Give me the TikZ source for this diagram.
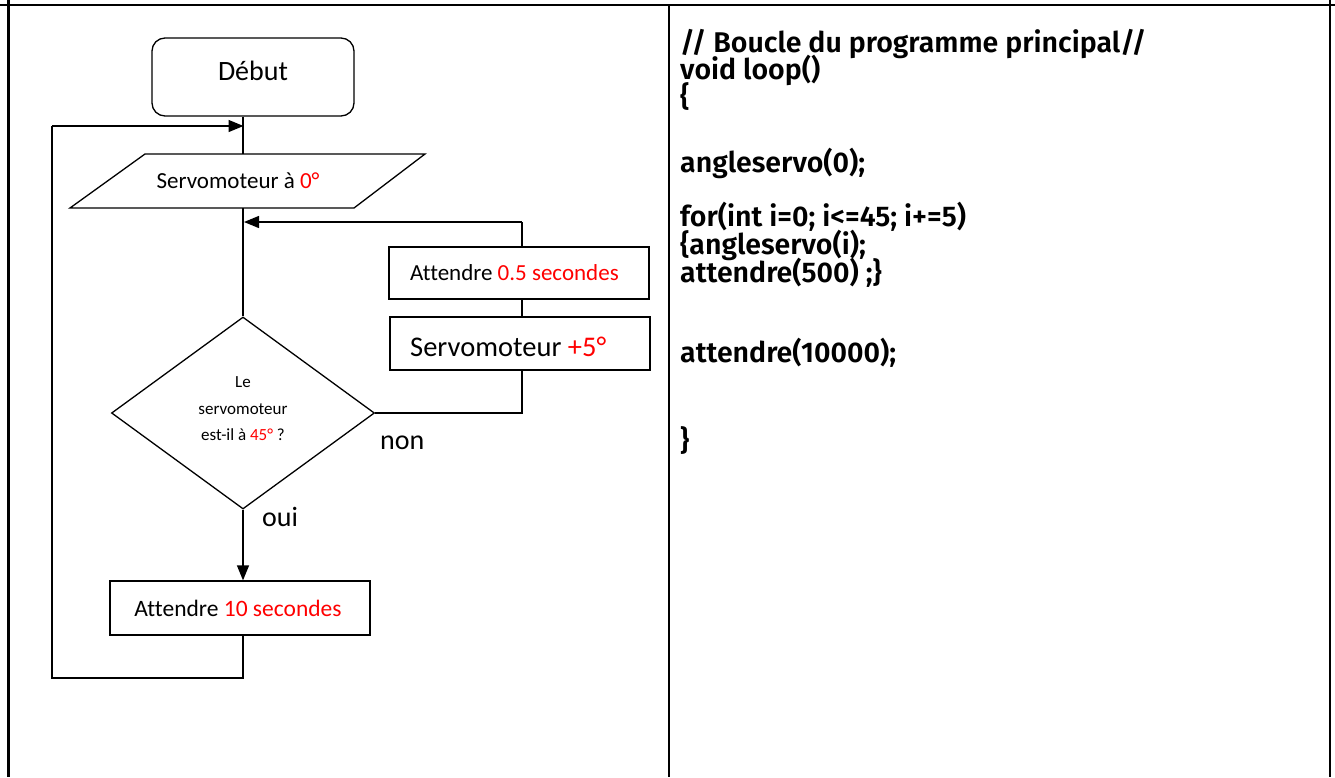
\documentclass[tikz,border=0pt]{standalone}
\usepackage{fontspec}
\usetikzlibrary{arrows.meta,shapes.geometric}
\setmainfont{Carlito}[Ligatures=NoCommon]
\IfFontExistsTF{Fira Sans SemiBold}
  {\newfontfamily\codefont{Fira Sans SemiBold}}
  {\newfontfamily\codefont{Fira Sans}[UprightFont=*,UprightFeatures={FakeBold=1.5}]}
\definecolor{valred}{HTML}{FF0000}
\newcommand{\val}[1]{\textcolor{valred}{#1}}

\tikzset{
  frame/.style={line width=2.6pt},
  flow/.style={line width=1.3pt},
  arr/.style={flow,-{Triangle[length=15pt,width=12pt]}},
  procbox/.style={draw,flow,rectangle,inner sep=0pt},
  codeline/.style={anchor=base west,inner sep=0pt,font=\codefont\fontsize{28.5}{32}\selectfont},
  lbl/.style={inner sep=0pt,font=\fontsize{28}{32}\selectfont}
}

\begin{document}
\begin{tikzpicture}[x=1pt,y=-1pt]
\useasboundingbox (0,0) rectangle (1335,777);

% table frame
\draw[frame] (0,5) -- (1335,5);
\draw[frame] (8.5,0) -- (8.5,777);
\draw[frame] (1330,0) -- (1330,777);
\draw[frame] (669,5) -- (669,777);

% ---------- flowchart ----------
\node[draw,flow,rounded corners=13pt,minimum width=202pt,minimum height=78pt] (debut) at (253,77) {};
\node[inner sep=0pt,font=\fontsize{28}{32}\selectfont] (debutText) at (253,71) {Début};

% parallelogram: Servomoteur a 0
\coordinate (pTL) at (145,154);
\coordinate (pTR) at (425,154);
\coordinate (pBR) at (354,208);
\coordinate (pBL) at (70,208);
\draw[flow] (pTL) -- (pTR) -- (pBR) -- (pBL) -- cycle;
\node[inner sep=0pt,font=\fontsize{23}{27}\selectfont] (init) at (238,181) {Servomoteur à \val{0°}};

\coordinate (pTop) at (243,154);
\coordinate (pBot) at (243,208);
\coordinate (mergeA) at (243,126);
\coordinate (mergeB) at (243,222);

% decision
\node[draw,flow,diamond,minimum width=263pt,minimum height=192pt,inner sep=0pt] (test) at (243,413) {};
\node[inner sep=0pt,align=center,font=\fontsize{17}{26.5}\selectfont] (testText) at (243,409)
      {Le\\servomoteur\\est-il à \val{45°} ?};

% loop body boxes
\node[procbox,minimum width=260pt,minimum height=52pt] (wait05) at (519,273) {};
\node[anchor=west,inner sep=0pt,font=\fontsize{23}{27}\selectfont] (wait05Text) at (410,273)
      {Attendre \val{0.5 secondes}};
\node[procbox,minimum width=260pt,minimum height=53pt] (plus5) at (520,343.5) {};
\node[anchor=west,inner sep=0pt,font=\fontsize{28.5}{32}\selectfont] (plus5Text) at (410,347)
      {Servomoteur \val{+5°}};

% final wait
\node[procbox,minimum width=260pt,minimum height=54pt] (wait10) at (240,608) {};
\node[inner sep=0pt,font=\fontsize{23.5}{27}\selectfont] (wait10Text) at (238,608)
      {Attendre \val{10 secondes}};

\coordinate (loopBL) at (52,678);
\coordinate (loopTL) at (52,126);
\coordinate (w10out) at (243,678);
\coordinate (rightUp) at (522,222);
\coordinate (rightDn) at (522,413);

% connectors
\draw[flow] (debut.south -| pTop) -- (pTop);
\draw[flow] (pBot) -- (test.north);
\draw[arr] (rightUp) -- (244,222);
\draw[flow] (wait05.north -| rightUp) -- (rightUp);
\draw[flow] (wait05.south -| rightUp) -- (plus5.north -| rightUp);
\draw[flow] (test.east) -- (rightDn) -- (plus5.south -| rightDn);
\draw[arr] (test.south) -- (wait10.north -| test.south);
\draw[flow] (wait10.south -| w10out) -- (w10out) -- (loopBL) -- (loopTL);
\draw[arr] (loopTL) -- (243.5,126);

\node[lbl,anchor=west] (non) at (380,443) {non};
\node[lbl,anchor=west] (oui) at (262,517) {oui};

% ---------- program listing ----------
\node[codeline] (c1) at (680,52) {// Boucle du programme principal//};
\node[codeline] (c2) at (680,79) {void loop()};
\node[codeline] (c3) at (680,106) {\{};
\node[codeline] (c4) at (680,172) {angleservo(0);};
\node[codeline] (c5) at (680,226) {for(int i=0; i<=45; i+=5)};
\node[codeline] (c6) at (680,254) {\{angleservo(i);};
\node[codeline] (c7) at (680,282) {attendre(500) ;\}};
\node[codeline] (c8) at (680,362) {attendre(10000);};
\node[codeline] (c9) at (680,450) {\}};
\end{tikzpicture}
\end{document}
